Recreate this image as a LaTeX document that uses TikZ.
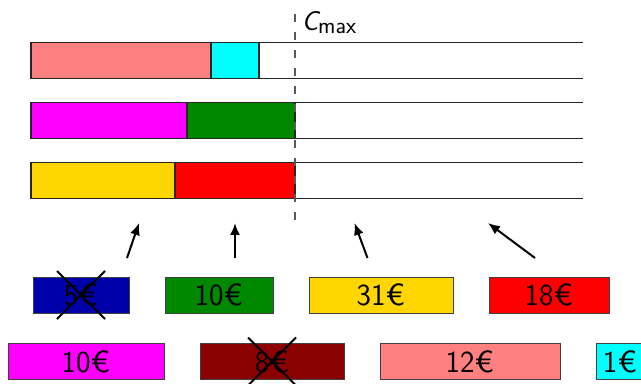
\documentclass[tikz,border=0pt]{standalone}
\usetikzlibrary{arrows.meta}

\definecolor{jobsalmon}{RGB}{255,128,128}
\definecolor{jobcyan}{RGB}{0,255,255}
\definecolor{jobmagenta}{RGB}{255,0,255}
\definecolor{jobgreen}{RGB}{0,136,0}
\definecolor{jobgold}{RGB}{255,214,0}
\definecolor{jobred}{RGB}{255,0,0}
\definecolor{jobblue}{RGB}{0,0,170}
\definecolor{jobdarkred}{RGB}{139,0,0}

% a slightly wider euro sign
\newcommand{\eur}{\scalebox{1.15}[1]{€}}

\begin{document}
\begin{tikzpicture}[x=0.75pt,y=-0.75pt,
  rowline/.style={line width=0.9pt, black!85},
  bar/.style={draw=black!85, line width=0.9pt},
  jobbox/.style={draw=black!75, line width=0.75pt, minimum height=27pt,
    inner sep=0pt, font=\fontsize{23}{27}\selectfont\sffamily},
  cross/.style={line width=1.4pt},
  pick/.style={line width=1.5pt, -{Latex[length=9pt,width=7.5pt]}},
  cmaxline/.style={line width=0.9pt, black!65, dash pattern=on 6pt off 7.5pt}]

\useasboundingbox (0,0) rectangle (641,384);
\clip (0,0) rectangle (641,384);

% machine rows of the schedule
\foreach \t in {42.5,102.5,162.5} {
  \draw[rowline] (31,\t) -- (583,\t);
  \draw[rowline] (31,\t+36) -- (583,\t+36);
}

% scheduled jobs
\draw[bar, fill=jobsalmon]  (31,42.5)   rectangle (211,78.5);
\draw[bar, fill=jobcyan]    (211,42.5)  rectangle (259,78.5);
\draw[bar, fill=jobmagenta] (31,102.5)  rectangle (187,138.5);
\draw[bar, fill=jobgreen]   (187,102.5) rectangle (295,138.5);
\draw[bar, fill=jobgold]    (31,162.5)  rectangle (175,198.5);
\draw[bar, fill=jobred]     (175,162.5) rectangle (295,198.5);

% makespan marker
\coordinate (cmaxtop) at (295,14);
\coordinate (cmaxbot) at (295,221);
\draw[cmaxline] (cmaxtop) -- (cmaxbot);
\node[anchor=base west, inner sep=0pt] (cmax) at (301.5,31)
  {\fontsize{20.5}{22}\selectfont\sffamily\itshape C\upshape\fontsize{17.5}{19}\selectfont\raisebox{-2pt}{max}};

% candidate jobs, first row
\node[jobbox, fill=jobblue,  minimum width=72pt]  (j5)  at (81,295)  {5\eur};
\node[jobbox, fill=jobgreen, minimum width=81pt]  (j10) at (219,295) {10\eur};
\node[jobbox, fill=jobgold,  minimum width=108pt] (j31) at (381,295) {31\eur};
\node[jobbox, fill=jobred,   minimum width=90pt]  (j18) at (549,295) {18\eur};

% candidate jobs, second row
\node[jobbox, fill=jobmagenta, minimum width=117pt] (k10) at (86,361.5)  {10\eur};
\node[jobbox, fill=jobdarkred, minimum width=108pt] (k8)  at (272,361.5) {8\eur};
\node[jobbox, fill=jobsalmon,  minimum width=135pt] (k12) at (470,361.5) {12\eur};
\node[jobbox, fill=jobcyan,    minimum width=36pt]  (k1)  at (620,361.5) {1\eur};

% rejected jobs
\draw[cross] ([shift={(-24,-24)}]j5.center) -- ([shift={(24,24)}]j5.center);
\draw[cross] ([shift={(24,-24)}]j5.center) -- ([shift={(-24,24)}]j5.center);
\draw[cross] ([shift={(-24,-24)}]k8.center) -- ([shift={(24,24)}]k8.center);
\draw[cross] ([shift={(24,-24)}]k8.center) -- ([shift={(-24,24)}]k8.center);

% insertion arrows
\coordinate (a1s) at (127,258);   \coordinate (a1e) at (139,223);
\coordinate (a2s) at (235,258);   \coordinate (a2e) at (235,223);
\coordinate (a3s) at (367.5,258); \coordinate (a3e) at (354.5,223);
\coordinate (a4s) at (535,258);   \coordinate (a4e) at (488,223);
\draw[pick] (a1s) -- (a1e);
\draw[pick] (a2s) -- (a2e);
\draw[pick] (a3s) -- (a3e);
\draw[pick] (a4s) -- (a4e);
\end{tikzpicture}
\end{document}
